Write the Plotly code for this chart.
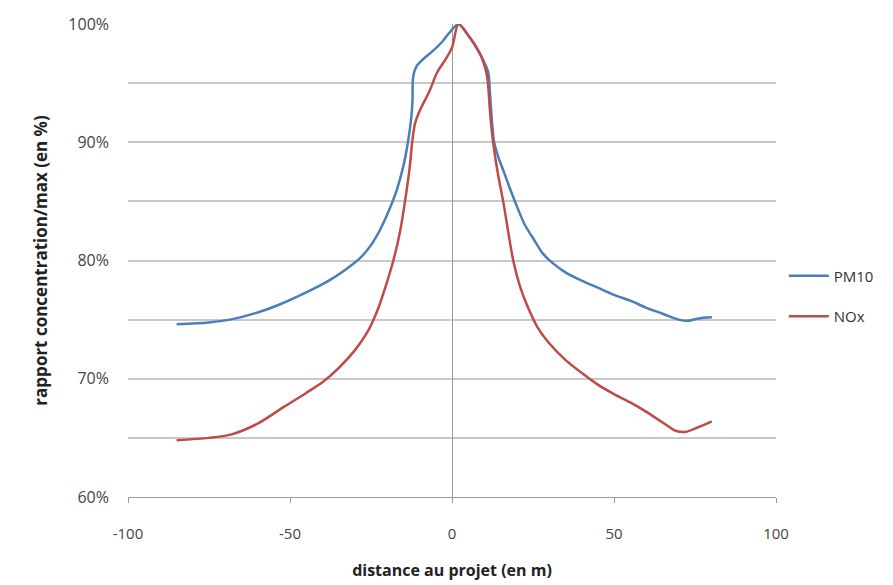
import plotly.graph_objects as go

# distance au projet (m) / rapport concentration/max (%)
pm10_x = [-85, -75, -68.5, -60, -53, -45, -38, -33, -28.4, -25, -22.2, -19.5, -17, -15,
          -13.6, -12.6, -12.2, -12.0, -11, -9, -6, -3, -1, 2,
          4.6, 8.6, 11.2, 11.7, 13, 14.5, 16, 18, 20, 22.5, 25, 28, 31, 35, 40, 45, 50,
          55, 60, 65, 70, 73, 76, 80.2]
pm10_y = [74.6, 74.75, 75.0, 75.6, 76.3, 77.3, 78.3, 79.2, 80.2, 81.3, 82.6, 84.2, 86.0, 88.0,
          90.0, 92.0, 93.5, 95.5, 96.4, 97.0, 97.7, 98.5, 99.2, 100,
          99.2, 97.5, 95.9, 94.2, 90.0, 88.6, 87.5, 86.0, 84.6, 83.0, 81.9, 80.6, 79.8, 79.0,
          78.3, 77.7, 77.1, 76.6, 76.0, 75.5, 75.0, 74.9, 75.1, 75.2]

nox_x = [-85, -75, -68, -60, -52, -45, -40, -35, -30, -26, -23, -20.5, -18.1, -16, -14.5,
         -13, -12.3, -11.4, -9.9, -7, -4.6, -2, 0, 2,
         4.6, 8.6, 10.5, 11.1, 11.7, 12.7, 14.2, 15.8, 18.9, 21, 23.5, 26.5, 30, 35, 40, 45,
         50, 55, 60, 65, 69, 72, 76, 80.2]
nox_y = [64.8, 65.0, 65.3, 66.2, 67.6, 68.8, 69.7, 70.9, 72.4, 74.0, 75.8, 77.8, 80.0, 82.5,
         85.0, 88.0, 90.0, 91.6, 92.7, 94.3, 95.9, 97.0, 98.0, 100,
         99.2, 97.5, 96.0, 95.0, 92.7, 90.0, 87.3, 85.0, 80.0, 77.8, 76.0, 74.3, 73.0, 71.6,
         70.5, 69.5, 68.7, 68.0, 67.2, 66.3, 65.6, 65.5, 65.9, 66.4]

y_ticks = [60, 65, 70, 75, 80, 85, 90, 95, 100]
y_labels = ["60%", "", "70%", "", "80%", "", "90%", "", "100%"]
x_ticks = [-100, -50, 0, 50, 100]
x_labels = ["-100", "-50", "0", "50", "100"]

fig = go.Figure()
fig.add_trace(go.Scatter(x=pm10_x, y=pm10_y, mode='lines', name='PM10', legendgroup='pm10',
                         line=dict(color='#4a7ebb', width=2.5, shape='spline', smoothing=0.8)))
fig.add_trace(go.Scatter(x=nox_x, y=nox_y, mode='lines', name='NOx', legendgroup='nox',
                         line=dict(color='#be4b48', width=2.5, shape='spline', smoothing=0.8)))

# the page body adds 8px around the figure
fig.update_layout(
    width=885, height=577,
    margin=dict(l=120, r=117, t=16, b=88),
    paper_bgcolor='white', plot_bgcolor='white',
    font=dict(family='Open Sans, Lato, sans-serif', size=14, color='#444'),
    showlegend=True,
    legend=dict(x=1.012, y=0.425, xanchor='left', yanchor='middle',
                font=dict(size=15, color='#333'), tracegroupgap=18, itemwidth=40),
)

fig.update_xaxes(range=[-100, 100], tickvals=x_ticks, ticktext=x_labels, showgrid=False,
                 showline=True, linecolor='#999', linewidth=1, automargin=False,
                 ticks='outside', ticklen=5, tickcolor='#999',
                 zeroline=True, zerolinecolor='#999', zerolinewidth=1,
                 tickfont=dict(size=15, color='#444'), ticklabelstandoff=18,
                 title=dict(text='<b>distance au projet (en m)</b>', font=dict(size=16, color='#222'),
                            standoff=22))
fig.update_yaxes(range=[60, 100], tickvals=y_ticks, ticktext=y_labels, automargin=False,
                 showgrid=True, gridcolor='#c8c8c8', gridwidth=1.5, zeroline=False,
                 showline=False, ticks='', tickfont=dict(size=16, color='#444'),
                 ticklabelstandoff=18,
                 title=dict(text='<b>rapport concentration/max (en %)</b>', font=dict(size=17, color='#222'),
                            standoff=16))

fig.write_html("out.html")
